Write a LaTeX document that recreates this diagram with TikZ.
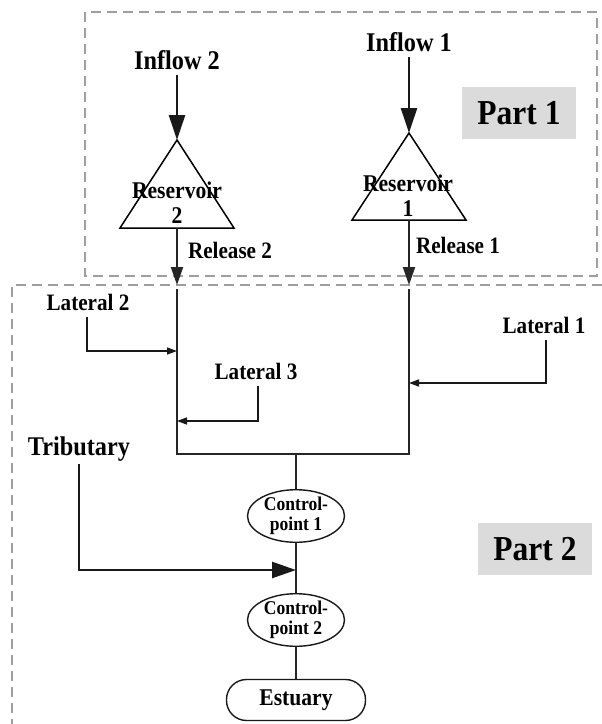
\documentclass[tikz,border=0pt]{standalone}
\usepackage{fontspec}
\setmainfont{Liberation Serif}[FakeStretch=0.9]
\usetikzlibrary{arrows.meta,shapes.geometric}
\begin{document}
\begin{tikzpicture}[x=1pt,y=-1pt,
  lbl/.style={font=\bfseries\fontsize{23.5}{26}\selectfont, inner sep=1pt},
  biglbl/.style={font=\bfseries\fontsize{27}{30}\selectfont, inner sep=5pt},
  reslbl/.style={font=\bfseries\fontsize{24}{25}\selectfont, align=center, inner sep=0pt},
  partbox/.style={fill=black!14, minimum width=114pt, minimum height=52pt, inner sep=0pt, font=\bfseries\fontsize{35}{38}\selectfont},
  frame/.style={draw=black!38, line width=2pt, dash pattern=on 10pt off 6pt},
  line/.style={draw=black!85, line width=1.4pt},
  tri/.style={draw=black, line width=1.5pt, line join=miter},
  inarrow/.style={draw=black!90, line width=2.5pt, -{Triangle[length=25pt,width=16pt]}},
  relarrow/.style={draw=black!85, line width=2pt, -{Triangle[length=18pt,width=12pt]}},
  latarrow/.style={draw=black!90, line width=1.4pt, -{Triangle[length=10pt,width=7pt]}},
  tribarrow/.style={draw=black!90, line width=2.5pt, -{Triangle[length=24pt,width=16pt]}},
  cpbox/.style={draw=black!90, line width=1.4pt, ellipse, minimum width=97pt, minimum height=44pt, inner sep=0pt, align=center, font=\bfseries\fontsize{19.5}{19.5}\selectfont},
  estbox/.style={draw=black!90, line width=1.4pt, rounded corners=20pt, minimum width=139pt, minimum height=41pt, inner sep=0pt, font=\bfseries\fontsize{24}{26}\selectfont}
]
\useasboundingbox (0,0) rectangle (602,724);
\fill[white] (0,0) rectangle (602,724);

% frames
\draw[frame] (85,12) rectangle (597,276);
\draw[frame] (602,285) -- (12,285) -- (12,730);

% part labels
\node[partbox] (part1) at (519,113) {Part 1};
\node[partbox] (part2) at (535,549) {Part 2};

% Reservoir 2
\coordinate (r2top) at (177,140);
\coordinate (r2bot) at (177,228);
\draw[tri] (r2top) -- (120,228) -- (234,228) -- cycle;
\node[reslbl] (res2) at (177,203) {Reservoir\\2};
\node[biglbl] (in2) at (177,60) {Inflow 2};
\draw[inarrow] (in2.south) -- (r2top);

% Reservoir 1
\coordinate (r1top) at (409,133);
\coordinate (r1bot) at (409,220);
\draw[tri] (r1top) -- (352,220) -- (466,220) -- cycle;
\node[reslbl] (res1) at (408,196) {Reservoir\\1};
\node[biglbl] (in1) at (409,42) {Inflow 1};
\draw[inarrow] (in1.south) -- (r1top);

% releases
\coordinate (rel2end) at (177,285);
\coordinate (rel1end) at (409,285);
\draw[relarrow] (r2bot) -- (rel2end);
\draw[relarrow] (r1bot) -- (rel1end);
\node[lbl] (rel2) at (230,250) {Release 2};
\node[lbl] (rel1) at (458,245) {Release 1};

% river network
\coordinate (j2) at (177,454);
\coordinate (j1) at (409,454);
\coordinate (jm) at (296,454);
\draw[line] (177,289) -- (j2) -- (j1) -- (409,289);

% control points and estuary
\node[cpbox] (cp1) at (296,516) {Control-\\point 1};
\node[cpbox] (cp2) at (296,620) {Control-\\point 2};
\node[estbox] (est) at (296,700) {Estuary};
\draw[line] (jm) -- (cp1.north);
\draw[line] (cp1.south) -- (cp2.north);
\draw[line] (cp2.south) -- (est.north);

% laterals
\node[lbl, inner sep=7pt] (lat2) at (88,302) {Lateral 2};
\coordinate (lat2in) at (177,351);
\draw[latarrow] (lat2.south -| 87,0) |- (lat2in);

\node[lbl, inner sep=7pt] (lat1) at (544,325) {Lateral 1};
\coordinate (lat1in) at (409,383);
\draw[latarrow] (lat1.south -| 546,0) |- (lat1in);

\node[lbl, inner sep=7pt] (lat3) at (256,371) {Lateral 3};
\coordinate (lat3in) at (177,421);
\draw[latarrow] (lat3.south -| 258,0) |- (lat3in);

% tributary
\node[font=\bfseries\fontsize{27}{30}\selectfont, inner sep=3pt] (trib) at (79,449) {Tributary};
\coordinate (tribin) at (296,570);
\draw[tribarrow] (trib.south) |- (tribin);
\end{tikzpicture}
\end{document}
